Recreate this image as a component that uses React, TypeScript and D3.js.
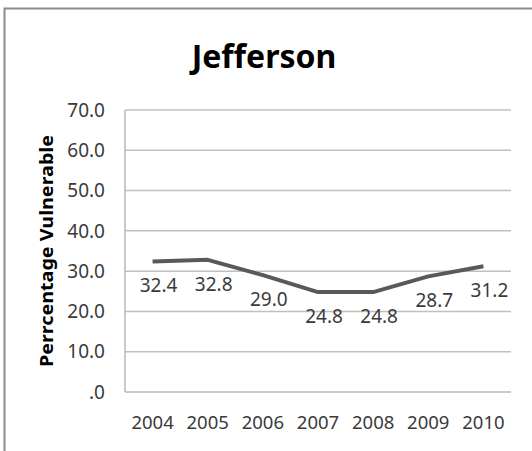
import React, { useEffect, useRef } from "react";
import * as d3 from "d3";

const years = ["2004", "2005", "2006", "2007", "2008", "2009", "2010"];
const vulnerable = [32.4, 32.8, 29.0, 24.8, 24.8, 28.7, 31.2];
const yTicks = [0, 10, 20, 30, 40, 50, 60, 70];
const title = "Jefferson";
const yTitle = "Perrcentage Vulnerable";

const W = 532;
const H = 451;
const font = "'Noto Sans', 'Open Sans', sans-serif";

const App = () => {
    const svgRef = useRef<SVGSVGElement>(null);

    useEffect(() => {
        const svg = d3.select(svgRef.current);
        svg.selectAll("*").remove();

        const left = 125, right = 511, top = 110, bottom = 392;

        const x = d3.scaleBand().domain(years).range([left, right]);
        const y = d3.scaleLinear().domain([0, 70]).range([bottom, top]);

        // outer chart frame (only top and left edges visible)
        svg.append("path")
            .attr("d", `M4.5,${H} L4.5,8.5 L${W},8.5`)
            .attr("fill", "none")
            .attr("stroke", "#8c8c8c")
            .attr("stroke-width", 2);

        svg.append("text")
            .attr("x", 264)
            .attr("y", 68)
            .attr("text-anchor", "middle")
            .attr("font-family", font)
            .attr("font-weight", "bold")
            .attr("font-size", 32)
            .attr("fill", "#000")
            .text(title);

        // gridlines
        svg.append("g")
            .selectAll("line")
            .data(yTicks.filter(d => d > 0))
            .enter()
            .append("line")
            .attr("x1", left)
            .attr("x2", right)
            .attr("y1", d => y(d))
            .attr("y2", d => y(d))
            .attr("stroke", "#c0c0c0")
            .attr("stroke-width", 1.5);

        // axes lines
        svg.append("line")
            .attr("x1", left).attr("x2", left)
            .attr("y1", top).attr("y2", bottom)
            .attr("stroke", "#b8b8b8").attr("stroke-width", 1.5);
        svg.append("line")
            .attr("x1", left).attr("x2", right)
            .attr("y1", bottom).attr("y2", bottom)
            .attr("stroke", "#b8b8b8").attr("stroke-width", 1.5);

        // y tick labels
        svg.append("g")
            .selectAll("text")
            .data(yTicks)
            .enter()
            .append("text")
            .attr("x", 105)
            .attr("y", d => y(d))
            .attr("dy", "0.35em")
            .attr("text-anchor", "end")
            .attr("font-family", font)
            .attr("font-size", 19)
            .attr("fill", "#3a3a3a")
            .text(d => (d === 0 ? ".0" : d3.format(".1f")(d)));

        // x labels
        svg.append("g")
            .selectAll("text")
            .data(years)
            .enter()
            .append("text")
            .attr("x", d => (x(d) as number) + x.bandwidth() / 2)
            .attr("y", 429)
            .attr("text-anchor", "middle")
            .attr("font-family", font)
            .attr("font-size", 18.5)
            .attr("fill", "#3a3a3a")
            .text(d => d);

        // y axis title
        svg.append("text")
            .attr("transform", "translate(53,251) rotate(-90)")
            .attr("text-anchor", "middle")
            .attr("font-family", font)
            .attr("font-weight", "bold")
            .attr("font-size", 17)
            .attr("textLength", 232)
            .attr("lengthAdjust", "spacingAndGlyphs")
            .attr("fill", "#000")
            .text(yTitle);

        const line = d3.line<number>()
            .x((_, i) => (x(years[i]) as number) + x.bandwidth() / 2)
            .y(d => y(d));

        svg.append("path")
            .datum(vulnerable)
            .attr("d", line)
            .attr("fill", "none")
            .attr("stroke", "#595959")
            .attr("stroke-width", 4)
            .attr("stroke-linejoin", "round");

        // data labels below points
        svg.append("g")
            .selectAll("text")
            .data(vulnerable)
            .enter()
            .append("text")
            .attr("x", (_, i) => (x(years[i]) as number) + x.bandwidth() / 2 + 6)
            .attr("y", d => y(d) + 31)
            .attr("text-anchor", "middle")
            .attr("font-family", font)
            .attr("font-size", 19)
            .attr("fill", "#3a3a3a")
            .text(d => d3.format(".1f")(d));
    }, []);

    return (
        <svg
            ref={svgRef}
            width={W}
            height={H}
            style={{ position: "absolute", left: 0, top: 0, background: "#fff" }}
        />
    );
};

export default App;
